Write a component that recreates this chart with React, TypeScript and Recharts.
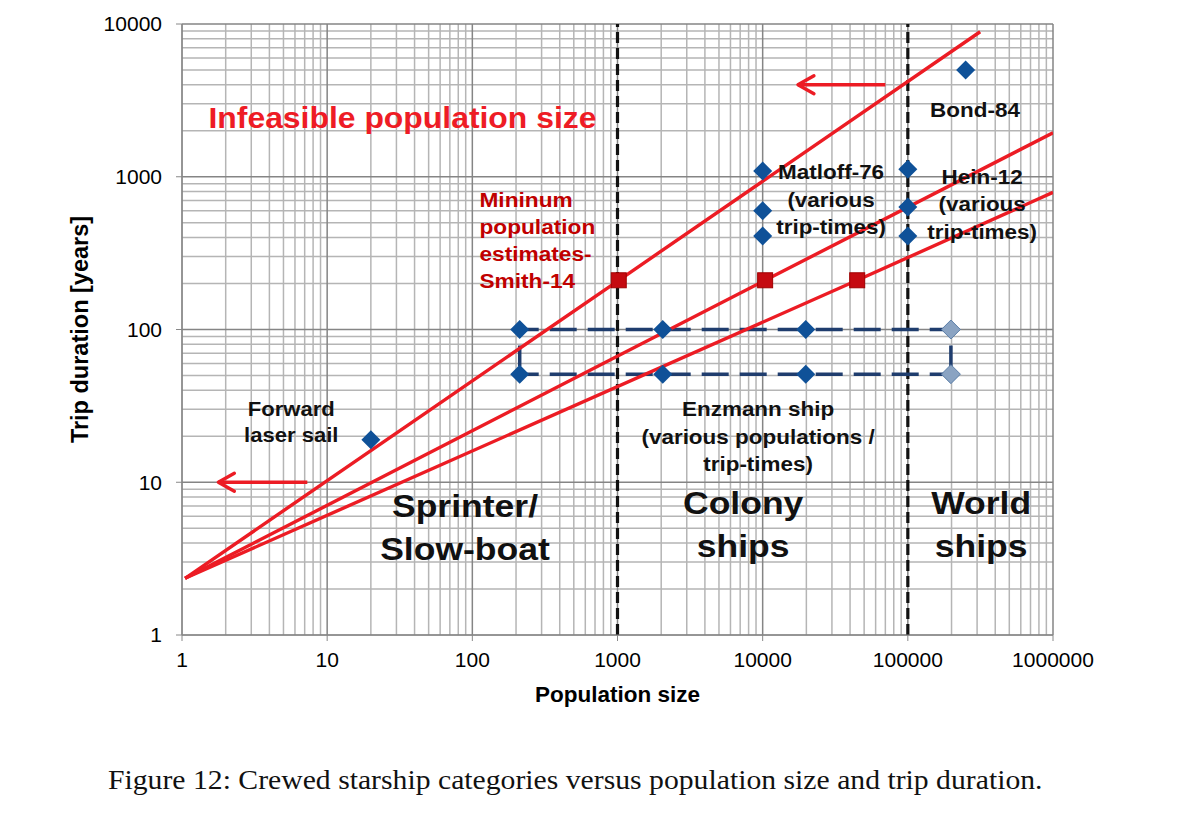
import React from 'react';
import { ScatterChart, Scatter, XAxis, YAxis, ReferenceLine } from 'recharts';

const FONT = '"Liberation Sans", Arial, Helvetica, sans-serif';

// Axis ticks (decades) and minor gridline multipliers
const xTicks = [1, 10, 100, 1000, 10000, 100000, 1000000];
const yTicks = [1, 10, 100, 1000, 10000];
const minorSteps = [2, 3, 4, 5, 6, 7, 8, 9];
const xMinor = xTicks.slice(0, -1).flatMap((d) => minorSteps.map((m) => d * m));
const yMinor = yTicks.slice(0, -1).flatMap((d) => minorSteps.map((m) => d * m));

// Category boundaries
const categoryBounds = [1000, 100000];

// Minimum population estimates (Smith-14) lines and points
const smithLineA = [
  { x: 1.05, y: 2.35 },
  { x: 1020, y: 210 },
  { x: 315000, y: 8900 },
];
const smithLineB = [
  { x: 1.05, y: 2.35 },
  { x: 10400, y: 210 },
  { x: 1000000, y: 1940 },
];
const smithLineC = [
  { x: 1.05, y: 2.35 },
  { x: 44800, y: 210 },
  { x: 1000000, y: 790 },
];
const smithPoints = [
  { x: 1020, y: 210 },
  { x: 10400, y: 210 },
  { x: 44800, y: 210 },
];

// Ship designs
const forwardLaserSail = [{ x: 20, y: 19 }];
const matloff76 = [
  { x: 10000, y: 1090 },
  { x: 10000, y: 600 },
  { x: 10000, y: 410 },
];
const hein12 = [
  { x: 100000, y: 1120 },
  { x: 100000, y: 635 },
  { x: 100000, y: 410 },
];
const bond84 = [{ x: 250000, y: 5000 }];
const enzmannTop = [
  { x: 212, y: 100 },
  { x: 2050, y: 100 },
  { x: 19800, y: 100 },
];
const enzmannBottom = [
  { x: 212, y: 51 },
  { x: 2050, y: 51 },
  { x: 19800, y: 51 },
];
const enzmannFaded = [
  { x: 198000, y: 100 },
  { x: 198000, y: 51 },
];
const enzmannTopLine = [...enzmannTop, enzmannFaded[0]];
const enzmannBottomLine = [...enzmannBottom, enzmannFaded[1]];
const enzmannLeftSide = [enzmannTop[0], enzmannBottom[0]];
const enzmannRightSide = [enzmannFaded[0], enzmannFaded[1]];

// Arrows (tail, tip)
const arrowLow = [
  { x: 7.3, y: 10 },
  { x: 1.78, y: 10, tip: true },
];
const arrowHigh = [
  { x: 70000, y: 4000 },
  { x: 17500, y: 4000, tip: true },
];

// Annotations (anchored at data coordinates)
const annotations = [
  { x: 33, y: 2450, kind: 'infeasible', lines: ['Infeasible population size'] },
  { x: 112, y: 715, kind: 'smith', lines: ['Mininum', 'population', 'estimates-', 'Smith-14'] },
  { x: 29600, y: 1075, kind: 'label', lines: ['Matloff-76', '(various', 'trip-times)'] },
  { x: 325000, y: 1010, kind: 'label', lines: ['Hein-12', '(various', 'trip-times)'] },
  { x: 290000, y: 2740, kind: 'label', lines: ['Bond-84'] },
  { x: 5.66, y: 30.2, kind: 'labelTight', lines: ['Forward', 'laser sail'] },
  { x: 9300, y: 30.2, kind: 'label', lines: ['Enzmann ship', '(various populations /', 'trip-times)'] },
  { x: 89, y: 7, kind: 'region', lines: ['Sprinter/', 'Slow-boat'] },
  { x: 7340, y: 7.4, kind: 'region', lines: ['Colony', 'ships'] },
  { x: 319800, y: 7.4, kind: 'region', lines: ['World', 'ships'] },
];

const annotationStyles: Record<string, any> = {
  infeasible: { size: 29, color: '#ee1c25', anchor: 'middle', stretch: 1.1, lh: 0 },
  smith: { size: 21, color: '#c00000', anchor: 'start', stretch: 1.08, lh: 27 },
  label: { size: 21, color: '#111', anchor: 'middle', stretch: 1.07, lh: 27.5 },
  labelTight: { size: 21, color: '#111', anchor: 'middle', stretch: 1.05, lh: 26 },
  region: { size: 32, color: '#111', anchor: 'middle', stretch: 1.11, lh: 43 },
};

const NoShape = () => <g />;

const Diamond = (props: any) => {
  const { cx, cy, fill, stroke } = props;
  if (cx == null || cy == null) return <g />;
  const r = 9.5;
  return (
    <polygon
      points={`${cx},${cy - r} ${cx + r},${cy} ${cx},${cy + r} ${cx - r},${cy}`}
      fill={fill}
      stroke={stroke || 'none'}
      strokeWidth={1}
    />
  );
};

const Square = (props: any) => {
  const { cx, cy } = props;
  if (cx == null || cy == null) return <g />;
  return <rect x={cx - 7.5} y={cy - 7.5} width={15} height={15} fill="#c50a10" stroke="#a00000" strokeWidth={1} />;
};

const ArrowTip = (props: any) => {
  const { cx, cy, payload } = props;
  if (!payload || !payload.tip) return <g />;
  return (
    <polyline
      points={`${cx + 16},${cy - 9} ${cx},${cy} ${cx + 16},${cy + 9}`}
      fill="none"
      stroke="#ec1c24"
      strokeWidth={3.4}
      strokeLinecap="round"
      strokeLinejoin="round"
    />
  );
};

const AnnotationShape = (props: any) => {
  const { cx, cy, payload } = props;
  if (cx == null || cy == null || !payload) return <g />;
  const st = annotationStyles[payload.kind];
  return (
    <g transform={`translate(${cx},${cy}) scale(${st.stretch},1)`}>
      <text
        textAnchor={st.anchor}
        fontSize={st.size}
        fontWeight="bold"
        fill={st.color}
        fontFamily={FONT}
      >
        {payload.lines.map((l: string, i: number) => (
          <tspan key={i} x={0} y={i * st.lh + 0.358 * st.size}>
            {l}
          </tspan>
        ))}
      </text>
    </g>
  );
};

const W = 1184;
const H = 760;

export default function App() {
  const redLine = { stroke: '#ec1c24', strokeWidth: 3.4 };
  const blueDash = { stroke: '#1f3d6e', strokeWidth: 3.5, strokeDasharray: '27 11', strokeDashoffset: 8 };
  const blueSide = { stroke: '#1f3d6e', strokeWidth: 3.5, strokeDasharray: '0 16 21 100' };
  return (
    <div style={{ position: 'relative', width: W, height: 808, background: '#fff' }}>
      <ScatterChart width={W} height={H} margin={{ top: 16, right: 139, bottom: 73, left: 74 }}>
        <XAxis
          type="number"
          dataKey="x"
          scale="log"
          domain={[1, 1000000]}
          allowDataOverflow
          ticks={xTicks}
          interval={0}
          height={60}
          stroke="#888"
          tickSize={6}
          tickMargin={11}
          tick={{ fill: '#000', fontSize: 21, fontFamily: FONT }}
          label={{
            value: 'Population size',
            position: 'bottom',
            offset: -9,
            style: { fill: '#000', fontSize: 22.5, fontWeight: 'bold', fontFamily: FONT },
          }}
        />
        <YAxis
          type="number"
          dataKey="y"
          scale="log"
          domain={[1, 10000]}
          allowDataOverflow
          ticks={yTicks}
          interval={0}
          width={100}
          stroke="#888"
          tickSize={6}
          tickMargin={14}
          tick={{ fill: '#000', fontSize: 21, fontFamily: FONT }}
          label={{
            value: 'Trip duration [years]',
            angle: -90,
            position: 'insideLeft',
            offset: -2,
            style: { fill: '#000', fontSize: 23.5, fontWeight: 'bold', fontFamily: FONT, textAnchor: 'middle' },
          }}
        />
        {xMinor.map((v) => (
          <ReferenceLine key={'xm' + v} x={v} stroke="#b5b5b5" strokeWidth={1.5} />
        ))}
        {yMinor.map((v) => (
          <ReferenceLine key={'ym' + v} y={v} stroke="#b5b5b5" strokeWidth={1.5} />
        ))}
        {xTicks.map((v) => (
          <ReferenceLine key={'xM' + v} x={v} stroke="#858585" strokeWidth={1.5} />
        ))}
        {yTicks.map((v) => (
          <ReferenceLine key={'yM' + v} y={v} stroke="#858585" strokeWidth={1.5} />
        ))}

        <Scatter data={enzmannTopLine} line={blueDash} shape={NoShape} isAnimationActive={false} legendType="none" />
        <Scatter data={enzmannBottomLine} line={blueDash} shape={NoShape} isAnimationActive={false} legendType="none" />
        <Scatter data={enzmannLeftSide} line={blueSide} shape={NoShape} isAnimationActive={false} legendType="none" />
        <Scatter data={enzmannRightSide} line={blueSide} shape={NoShape} isAnimationActive={false} legendType="none" />

        {categoryBounds.map((v) => (
          <ReferenceLine key={'cb' + v} x={v} stroke="#111" strokeWidth={3.2} strokeDasharray="11 5" />
        ))}

        <Scatter data={smithLineA} line={redLine} shape={NoShape} isAnimationActive={false} legendType="none" />
        <Scatter data={smithLineB} line={redLine} shape={NoShape} isAnimationActive={false} legendType="none" />
        <Scatter data={smithLineC} line={redLine} shape={NoShape} isAnimationActive={false} legendType="none" />
        <Scatter data={arrowLow} line={{ stroke: '#ec1c24', strokeWidth: 3.4 }} shape={ArrowTip} isAnimationActive={false} legendType="none" />
        <Scatter data={arrowHigh} line={{ stroke: '#ec1c24', strokeWidth: 3.4 }} shape={ArrowTip} isAnimationActive={false} legendType="none" />

        <Scatter data={smithPoints} shape={Square} isAnimationActive={false} legendType="none" />
        <Scatter data={enzmannTop} fill="#0f5198" shape={Diamond} isAnimationActive={false} legendType="none" />
        <Scatter data={enzmannBottom} fill="#0f5198" shape={Diamond} isAnimationActive={false} legendType="none" />
        <Scatter data={enzmannFaded} fill="#8aa3c2" stroke="#5b7ea8" shape={Diamond} isAnimationActive={false} legendType="none" />
        <Scatter data={forwardLaserSail} fill="#0f5198" shape={Diamond} isAnimationActive={false} legendType="none" />
        <Scatter data={matloff76} fill="#0f5198" shape={Diamond} isAnimationActive={false} legendType="none" />
        <Scatter data={hein12} fill="#0f5198" shape={Diamond} isAnimationActive={false} legendType="none" />
        <Scatter data={bond84} fill="#0f5198" shape={Diamond} isAnimationActive={false} legendType="none" />

        <Scatter data={annotations} shape={AnnotationShape} isAnimationActive={false} legendType="none" />
      </ScatterChart>
      <div
        style={{
          position: 'absolute',
          left: 100,
          top: 757,
          fontFamily: '"Liberation Serif", "Times New Roman", serif',
          fontSize: 27,
          color: '#111',
          whiteSpace: 'nowrap',
          transform: 'scaleX(1.1)',
          transformOrigin: 'left center',
        }}
      >
        Figure 12: Crewed starship categories versus population size and trip duration.
      </div>
    </div>
  );
}
